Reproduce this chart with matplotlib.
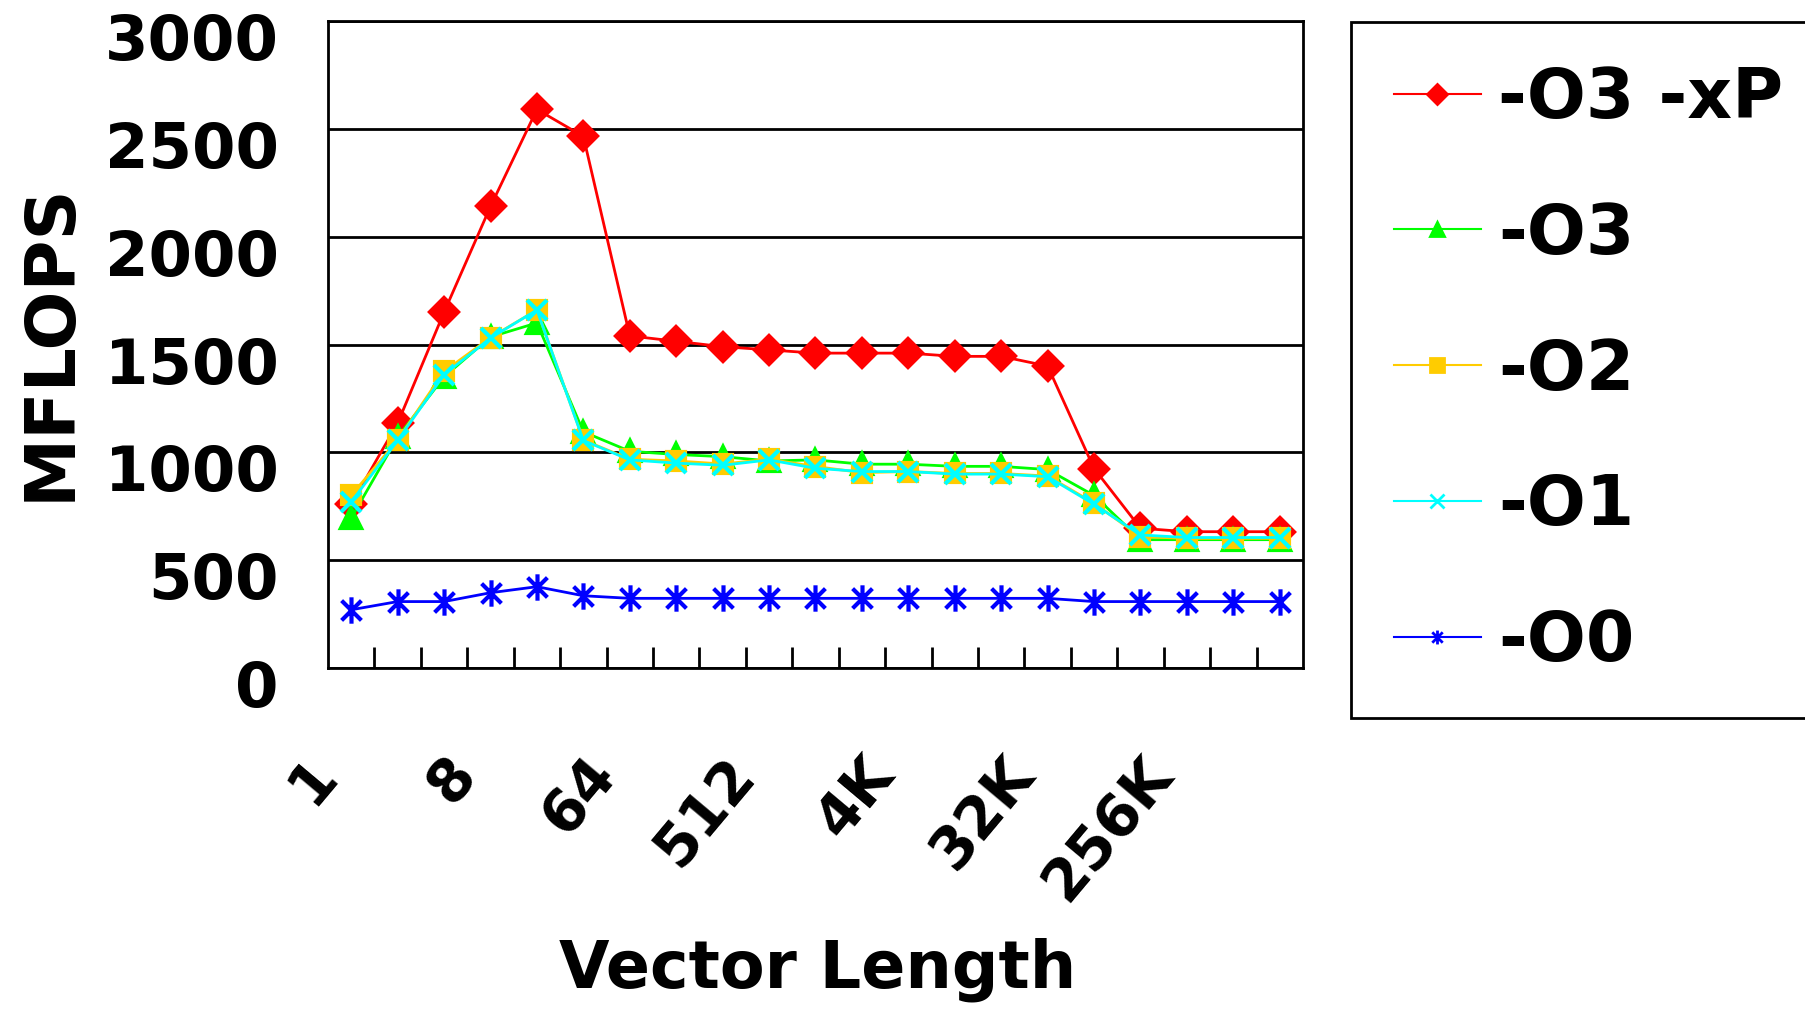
import numpy as np
import matplotlib
matplotlib.use('Agg')
import matplotlib.pyplot as plt
import matplotlib.transforms as mtransforms
from matplotlib.path import Path
from matplotlib.lines import Line2D

# vector lengths 2^0 .. 2^20
lengths = ['1', '2', '4', '8', '16', '32', '64', '128', '256', '512', '1K', '2K',
           '4K', '8K', '16K', '32K', '64K', '128K', '256K', '512K', '1M']
shown = ['1', '8', '64', '512', '4K', '32K', '256K']

o3xp = [760, 1135, 1650, 2140, 2590, 2465, 1540, 1515, 1490, 1475, 1460, 1460,
        1460, 1445, 1445, 1400, 925, 648, 632, 632, 632]
o3 = [695, 1070, 1350, 1535, 1600, 1095, 1005, 990, 980, 960, 965, 945,
      945, 935, 935, 920, 800, 595, 595, 595, 595]
o2 = [800, 1057, 1375, 1532, 1660, 1057, 968, 960, 946, 968, 934, 906,
      911, 902, 902, 890, 764, 609, 601, 601, 601]
o1 = [770, 1055, 1360, 1530, 1660, 1055, 965, 950, 940, 965, 926, 911,
      911, 899, 899, 887, 759, 617, 605, 605, 605]
o0 = [270, 308, 308, 349, 377, 335, 323, 323, 323, 323, 323, 323,
      323, 323, 323, 323, 308, 308, 308, 308, 308]

labels = ['-O3 -xP', '-O3', '-O2', '-O1', '-O0']
colors = ['#FF0000', '#00FF00', '#FFCC00', '#00FFFF', '#0000FF']

# excel style asterisk: vertical bar plus an x
star = Path([(0, -1), (0, 1), (-0.75, -0.75), (0.75, 0.75), (-0.75, 0.75), (0.75, -0.75)],
            [Path.MOVETO, Path.LINETO, Path.MOVETO, Path.LINETO, Path.MOVETO, Path.LINETO])
markers = ['D', '^', 's', 'x', star]
msizes = [14, 14, 13, 14, 19]

fig = plt.figure(figsize=(18.05, 10.13), dpi=100)
ax = fig.add_axes([328/1805., 1-668/1013., 975/1805., 647/1013.])

x = np.arange(len(lengths))
series = [o3xp, o3, o2, o1, o0]
for ys, c, m, ms, lab in zip(series, colors, markers, msizes, labels):
    ax.plot(x, ys, color=c, lw=2, marker=m, ms=ms, mec=c, mfc=c, mew=3, label=lab)

ax.set_xlim(-0.5, len(lengths)-0.5)
ax.set_ylim(0, 3000)
yt = np.arange(0, 3001, 500)
ax.set_yticks(yt)
ax.yaxis.grid(True, color='black', lw=2)
ax.set_axisbelow(True)
ax.tick_params(axis='y', length=0, labelleft=False)
ax.set_xticks(x)
ax.set_xticks(np.arange(0.5, len(lengths)-1, 1.0), minor=True)
ax.tick_params(axis='x', which='major', length=0, labelbottom=False)
ax.tick_params(axis='x', which='minor', direction='in', length=15, width=2)
for s in ax.spines.values():
    s.set_linewidth(2)

# y labels sit a little below their grid lines
ytr = mtransforms.offset_copy(ax.get_yaxis_transform(), fig=fig, x=-0.49, y=-0.22, units='inches')
for v in yt:
    ax.text(0, v, str(v), transform=ytr, ha='right', va='center', fontsize=45, fontweight='bold')

xtr = mtransforms.offset_copy(ax.get_xaxis_transform(), fig=fig, x=-0.25, y=-0.97, units='inches')
for i, lab in enumerate(lengths):
    if lab in shown:
        ax.text(i, 0, lab, transform=xtr, rotation=50, rotation_mode='anchor',
                ha='right', va='center', fontsize=42, fontweight='bold')

fig.text(50/1805., 1-342/1013., 'MFLOPS', rotation=90, ha='center', va='center',
         fontsize=50, fontweight='bold')
fig.text(818/1805., 1-970/1013., 'Vector Length', ha='center', va='center', fontsize=47,
         fontweight='bold')

handles = [Line2D([], [], color=c, lw=1.5, marker=m, ms=10, mec=c, mfc=c, mew=2)
           for c, m in zip(colors, markers)]
leg = fig.legend(handles, labels, loc='upper left', bbox_to_anchor=(1351/1805., 1-22/1013.),
                 borderaxespad=0, fancybox=False, edgecolor='black', framealpha=1,
                 prop={'size': 50, 'weight': 'bold'}, handlelength=1.25, handletextpad=0.25,
                 borderpad=0.62, labelspacing=0.99)
leg.get_frame().set_linewidth(2)

plt.savefig('out.png', dpi=100)
